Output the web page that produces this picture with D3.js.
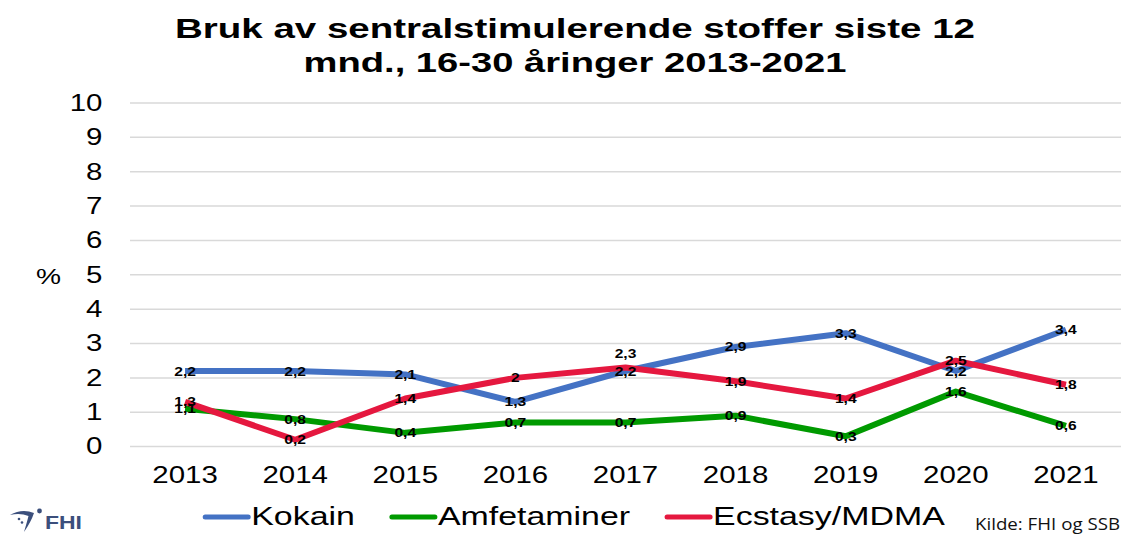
<!DOCTYPE html>
<html>
<head>
<meta charset="utf-8">
<script src="https://cdn.jsdelivr.net/npm/d3@7"></script>
<style>
  body { margin: 0; background: #fff; }
  svg { display: block; font-family: "Liberation Sans", Arial, sans-serif; }
  .grid line { stroke: #d9d9d9; stroke-width: 1.5; }
  .tick text { fill: #000; }
  .val { font-weight: bold; font-size: 12.5px; fill: #000; }
</style>
</head>
<body>
<div class="chart"></div>
<script>
// data
const years = ["2013", "2014", "2015", "2016", "2017", "2018", "2019", "2020", "2021"]
const seriesNames = ["Kokain", "Amfetaminer", "Ecstasy/MDMA"]
const kokain = [2.2, 2.2, 2.1, 1.3, 2.2, 2.9, 3.3, 2.2, 3.4]
const amfetaminer = [1.1, 0.8, 0.4, 0.7, 0.7, 0.9, 0.3, 1.6, 0.6]
const ecstasy = [1.3, 0.2, 1.4, 2, 2.3, 1.9, 1.4, 2.5, 1.8]
const yTicks = [0, 1, 2, 3, 4, 5, 6, 7, 8, 9, 10]

const seriesValues = [kokain, amfetaminer, ecstasy]
const colors = ["#4472c4", "#009a00", "#e5183f"]
// labels Excel pushed above the point instead of centering
const labelAbove = { "Ecstasy/MDMA|2017": true }

const width = 1132, height = 535
const stretch = 1.28 // the original picture is stretched sideways

const svg = d3.select(".chart").append("svg")
    .attr("width", width)
    .attr("height", height)

// title
const titleLines = [
    { t: "Bruk av sentralstimulerende stoffer siste 12", y: 38, w: 800 },
    { t: "mnd., 16-30 åringer 2013-2021", y: 72, w: 543 }
]
titleLines.forEach(function(l){
    svg.append("text")
        .attr("x", 575)
        .attr("y", l.y)
        .attr("text-anchor", "middle")
        .attr("font-size", 28)
        .attr("font-weight", "bold")
        .attr("textLength", l.w)
        .attr("lengthAdjust", "spacingAndGlyphs")
        .text(l.t)
})

const x = d3.scaleBand()
    .domain(years)
    .range([130, 1121])

const y = d3.scaleLinear()
    .domain([0, 10])
    .range([446.6, 103])

// gridlines
svg.append("g")
    .attr("class", "grid")
    .selectAll("line")
    .data(yTicks)
    .join("line")
    .attr("x1", 130)
    .attr("x2", 1121)
    .attr("y1", d => y(d))
    .attr("y2", d => y(d))

// y axis labels
const yG = svg.append("g")
    .attr("transform", "translate(130,0)")
    .call(d3.axisLeft(y).tickValues(yTicks).tickSize(0).tickPadding(21.5).tickFormat(d3.format("d")))
yG.select(".domain").remove()
yG.selectAll("text")
    .attr("font-size", 23)
    .attr("font-family", "Liberation Sans, Arial, sans-serif")
    .attr("transform", `scale(${stretch},1)`)

svg.append("text")
    .attr("transform", `translate(36,284) scale(${stretch},1)`)
    .attr("font-size", 22)
    .text("%")

// x axis labels
const xG = svg.append("g")
    .attr("transform", `translate(0,${y(0)})`)
    .call(d3.axisBottom(x).tickSize(0))
xG.select(".domain").remove()
xG.selectAll("text")
    .attr("y", 36.5)
    .attr("dy", 0)
    .attr("font-size", 23)
    .attr("font-family", "Liberation Sans, Arial, sans-serif")
    .attr("transform", `scale(${stretch},1)`)

// lines
const line = d3.line()
    .x((d, i) => x(years[i]) + x.bandwidth() / 2)
    .y(d => y(d))

seriesValues.forEach(function(vals, s){
    svg.append("path")
        .attr("d", line(vals))
        .attr("fill", "none")
        .attr("stroke", colors[s])
        .attr("stroke-width", 6)
        .attr("stroke-linejoin", "round")
})

// data labels
seriesValues.forEach(function(vals, s){
    vals.forEach(function(v, i){
        let px = x(years[i]) + x.bandwidth() / 2
        let py = y(v) + 4.5
        if (labelAbove[seriesNames[s] + "|" + years[i]]) py -= 14
        svg.append("text")
            .attr("class", "val")
            .attr("text-anchor", "middle")
            .attr("transform", `translate(${px},${py}) scale(1.25,1)`)
            .text(String(v).replace(".", ","))
    })
})

// legend
const legend = svg.append("g")
let lx = 0
seriesNames.forEach(function(name, s){
    let g = legend.append("g").attr("transform", `translate(${lx},0)`)
    g.append("line")
        .attr("x1", 0).attr("x2", 43)
        .attr("y1", 517).attr("y2", 517)
        .attr("stroke", colors[s])
        .attr("stroke-width", 5)
        .attr("stroke-linecap", "round")
    let t = g.append("text")
        .attr("transform", `translate(46,525) scale(${stretch},1)`)
        .attr("font-size", 26.5)
        .text(name)
    let w = t.node().getComputedTextLength() * stretch
    lx += 46 + w + 37
})
let total = lx - 37
legend.attr("transform", `translate(${575 - total / 2},0)`)

// source
svg.append("text")
    .attr("x", 975)
    .attr("y", 530)
    .attr("font-size", 15.5)
    .attr("font-family", "Open Sans, DejaVu Sans, sans-serif")
    .attr("fill", "#111")
    .attr("textLength", 145)
    .attr("lengthAdjust", "spacingAndGlyphs")
    .text("Kilde: FHI og SSB")

// FHI logo
const logo = svg.append("g").attr("fill", "#3b4f7c")
logo.append("path")
    .attr("d", "M10 515 Q22 508 34 513 Q31 522 24 532 Q27 522 28.5 516 Q20 512.5 10 515 Z")
logo.append("circle").attr("cx", 39.5).attr("cy", 511).attr("r", 2.4)
logo.append("circle").attr("cx", 19).attr("cy", 519).attr("r", 1.3)
logo.append("circle").attr("cx", 22).attr("cy", 522.5).attr("r", 1.3)
logo.append("text")
    .attr("x", 45)
    .attr("y", 529)
    .attr("font-size", 19)
    .attr("font-weight", "bold")
    .attr("textLength", 37)
    .attr("lengthAdjust", "spacingAndGlyphs")
    .text("FHI")
</script>
</body>
</html>
